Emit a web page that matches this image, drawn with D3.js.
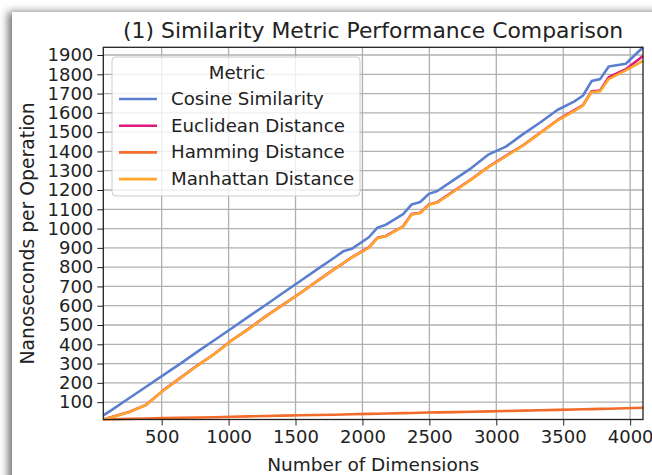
<!DOCTYPE html>
<html><head><meta charset="utf-8">
<script src="https://cdn.jsdelivr.net/npm/d3@7"></script>
<style>
html,body{margin:0;padding:0;background:#fff;width:652px;height:475px;overflow:hidden;}
#card{position:absolute;left:12px;top:12px;width:700px;height:520px;background:#fff;box-shadow:-4px 0 8px rgba(0,0,0,0.55);}
svg{position:absolute;left:0;top:0;}
text{font-family:"DejaVu Sans",sans-serif;fill:#222;}
</style></head>
<body><div id="card"></div><svg id="chart" width="652" height="475"></svg>
<script>
const dims = [64,128,256,384,512,640,768,896,1024,1152,1280,1408,1536,1664,1792,1856,1920,2048,2112,2176,2304,2368,2432,2496,2560,2688,2816,2944,3072,3200,3328,3456,3584,3648,3712,3776,3840,3968,4096];
const cosine = [31,60,120,180,240,300,362,422,483,545,605,667,728,790,850,882,895,955,1005,1020,1075,1125,1138,1180,1195,1255,1315,1385,1425,1490,1550,1615,1660,1690,1765,1775,1840,1855,1940];
const euclidean = [10,23,49,86,161,226,291,351,421,481,546,606,666,729,791,820,851,902,952,962,1012,1075,1082,1125,1137,1197,1257,1322,1377,1432,1497,1562,1614,1640,1712,1716,1785,1826,1895];
const hamming = [10,11,13,15,17,19,20,22,24,26,28,30,32,33,35,36,37,39,40,41,43,44,45,46,47,48,50,52,54,56,58,60,62,63,64,65,66,68,71];
const manhattan = [10,22,48,85,160,225,290,350,420,480,545,605,665,728,790,820,850,900,950,960,1010,1073,1080,1123,1135,1195,1255,1320,1375,1430,1495,1560,1610,1638,1708,1712,1775,1820,1870];
const seriesNames = ["Cosine Similarity","Euclidean Distance","Hamming Distance","Manhattan Distance"];
const seriesValues = [cosine, euclidean, hamming, manhattan];
const colors = ["#5b7fd0","#e0197f","#f26b2a","#ffa62b"];
const xTicks = [500,1000,1500,2000,2500,3000,3500,4000];
const yTicks = [100,200,300,400,500,600,700,800,900,1000,1100,1200,1300,1400,1500,1600,1700,1800,1900];

const L=103.3, R=643, T=47.3, B=419.5;
const svg = d3.select("#chart");
const x = d3.scaleLinear().domain([64,4096]).range([L,R]);
const y = d3.scaleLinear().domain([10,1940]).range([B,T]);
const fs = 18;

// grid
const g = svg.append("g");
g.selectAll(".gx").data(xTicks).enter().append("line")
  .attr("x1",d=>x(d)).attr("x2",d=>x(d)).attr("y1",T).attr("y2",B)
  .attr("stroke","#b0b0b0").attr("stroke-width",1.3);
g.selectAll(".gy").data(yTicks).enter().append("line")
  .attr("y1",d=>y(d)).attr("y2",d=>y(d)).attr("x1",L).attr("x2",R)
  .attr("stroke","#b0b0b0").attr("stroke-width",1.3);

// lines
const line = d3.line().x((d,i)=>x(dims[i])).y(d=>y(d));
seriesValues.forEach((vals,k)=>{
  svg.append("path").datum(vals).attr("d",line).attr("fill","none")
    .attr("stroke",colors[k]).attr("stroke-width",2.6).attr("stroke-linejoin","round");
});

// axes
const xAxis = svg.append("g").attr("transform",`translate(0,${B})`)
  .call(d3.axisBottom(x).tickValues(xTicks).tickSize(6).tickPadding(5).tickFormat(d3.format("d")));
const yAxis = svg.append("g").attr("transform",`translate(${L},0)`)
  .call(d3.axisLeft(y).tickValues(yTicks).tickSize(6).tickPadding(4).tickFormat(d3.format("d")));
[xAxis,yAxis].forEach(a=>{
  a.select(".domain").remove();
  a.selectAll("text").attr("font-size",fs).attr("font-family","DejaVu Sans").attr("fill","#222");
  a.selectAll("line").attr("stroke","#222").attr("stroke-width",1);
});
svg.append("rect").attr("x",L).attr("y",T).attr("width",R-L).attr("height",B-T)
  .attr("fill","none").attr("stroke","#222").attr("stroke-width",1.3);

// titles
svg.append("text").attr("x",(L+R)/2).attr("y",38).attr("text-anchor","middle")
  .attr("font-size",21.9).text("(1) Similarity Metric Performance Comparison");
svg.append("text").attr("x",(L+R)/2).attr("y",471).attr("text-anchor","middle")
  .attr("font-size",18.5).text("Number of Dimensions");
svg.append("text").attr("transform",`translate(34,${(T+B)/2}) rotate(-90)`).attr("text-anchor","middle")
  .attr("font-size",18.8).text("Nanoseconds per Operation");

// legend
const lg = svg.append("g");
lg.append("rect").attr("x",112).attr("y",57).attr("width",248).attr("height",139).attr("rx",4)
  .attr("fill","#fff").attr("fill-opacity",0.8).attr("stroke","#ccc").attr("stroke-width",1);
lg.append("text").attr("x",237).attr("y",79).attr("text-anchor","middle").attr("font-size",18.2).text("Metric");
seriesNames.forEach((n,i)=>{
  const yy = 99 + i*26.7;
  lg.append("line").attr("x1",119).attr("x2",157).attr("y1",yy).attr("y2",yy)
    .attr("stroke",colors[i]).attr("stroke-width",2.6);
  lg.append("text").attr("x",171).attr("y",yy+6).attr("font-size",18.2).text(n);
});
</script></body></html>
